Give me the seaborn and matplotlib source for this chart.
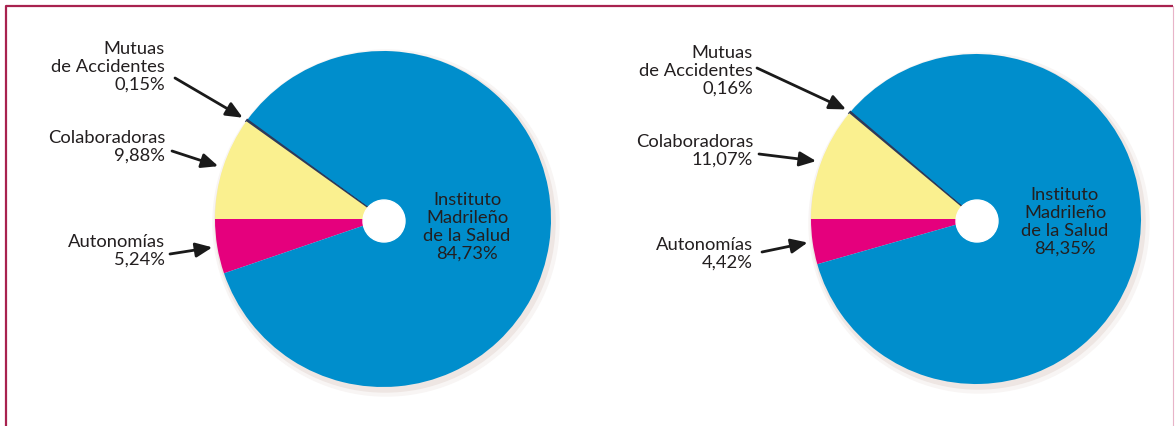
import matplotlib
matplotlib.use("Agg")
import matplotlib.pyplot as plt
import seaborn as sns
import numpy as np
from matplotlib.patches import Circle

# data
categories = ["Autonomías", "Instituto Madrileño de la Salud", "Mutuas de Accidentes", "Colaboradoras"]
values_left = [5.24, 84.73, 0.15, 9.88]
values_right = [4.42, 84.35, 0.16, 11.07]
pct_left = ["5,24%", "84,73%", "0,15%", "9,88%"]
pct_right = ["4,42%", "84,35%", "0,16%", "11,07%"]
label_lines = ["Autonomías", "Instituto\nMadrileño\nde la Salud", "Mutuas\nde Accidentes", "Colaboradoras"]

colors = ["#E5007D", "#008ECC", "#2E3A5A", "#FAF08F"]

sns.set_theme(style="white")
plt.rcParams["font.family"] = ["Lato", "DejaVu Sans"]
txt_color = "#231F20"
fs = 13.2

W, H = 1175, 427
fig = plt.figure(figsize=(W / 100, H / 100), dpi=100)
ax = fig.add_axes([0, 0, 1, 1])


def draw_pie(values, pcts, center, radius, text_x, text_ys, tails, inst_pos):
    cx, cy = center
    # soft shadow
    ax.add_patch(Circle((cx + 3, cy + 4), radius + 5, color="#f8f5f4", zorder=1))
    ax.add_patch(Circle((cx + 2, cy + 3), radius + 2, color="#eee6e3", zorder=1))
    wedges, _ = ax.pie(values, colors=colors, startangle=180, counterclock=False,
                       center=center, radius=radius, frame=False,
                       wedgeprops=dict(linewidth=0))
    for w in wedges:
        w.set_zorder(2)
    wedges[2].set_edgecolor(colors[2])
    wedges[2].set_linewidth(1.5)
    ax.add_patch(Circle((cx + 1, cy + 2), 21, color="white", zorder=3))

    for i in [2, 3, 0]:
        w = wedges[i]
        th = np.deg2rad((w.theta1 + w.theta2) / 2)
        tip = (cx + (radius + 5) * np.cos(th), cy + (radius + 5) * np.sin(th))
        ax.text(text_x, text_ys[i], label_lines[i] + "\n" + pcts[i], ha="right", va="center",
                fontsize=fs, color=txt_color, linespacing=1.15, zorder=5)
        ax.annotate("", xy=tip, xytext=tails[i], zorder=5,
                    arrowprops=dict(arrowstyle="-|>,head_length=0.5,head_width=0.22",
                                    mutation_scale=20, lw=2, color="#1a1a1a",
                                    shrinkA=0, shrinkB=0))
    ax.text(inst_pos[0], inst_pos[1], label_lines[1] + "\n" + pcts[1], ha="center", va="center",
            fontsize=fs, color=txt_color, linespacing=1.15, zorder=5)


draw_pie(values_left, pct_left, (383, 220), 168, 165,
         {2: 67, 3: 147, 0: 251},
         {2: (175, 79), 3: (172, 152), 0: (170, 255)},
         (467, 227))
draw_pie(values_right, pct_right, (976, 220), 165, 753,
         {2: 71, 3: 151, 0: 254},
         {2: (757, 69), 3: (759, 155), 0: (762, 253)},
         (1065, 222))

# frame
ax.plot([6, 6, 1173], [H, 7, 7], color="#A8224F", lw=1.6, solid_capstyle="butt", zorder=6)
ax.plot([1173, 1173], [7, H], color="#E8B4C8", lw=0.8, zorder=6)

ax.set_xlim(0, W)
ax.set_ylim(H, 0)
ax.set_aspect("equal")
ax.axis("off")

fig.savefig("out.png", dpi=100, facecolor="white")
